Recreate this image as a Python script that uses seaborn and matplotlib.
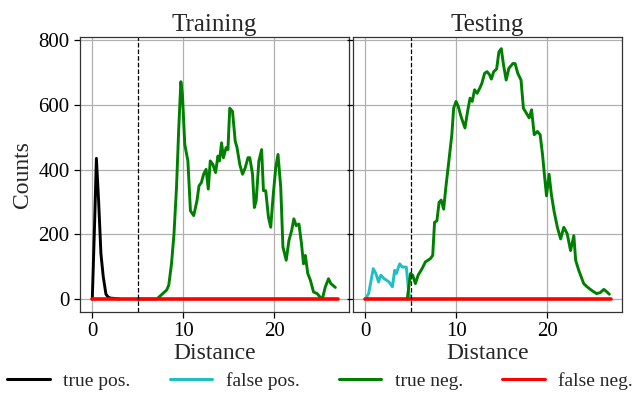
import numpy as np
import pandas as pd
import matplotlib
matplotlib.use("Agg")
import matplotlib.pyplot as plt
import seaborn as sns
from matplotlib.lines import Line2D

# ---------------- data ----------------
train_tp_x = [0, 0.25, 0.45, 0.7, 0.95, 1.2, 1.5, 1.75, 2.0, 2.5, 3.0]
train_tp_y = [0, 230, 435, 300, 140, 70, 15, 6, 3, 2, 0]

train_tn_x = [5.0, 7.08, 8.17, 8.4, 8.7, 8.97, 9.25, 9.5, 9.73, 9.9, 10.16, 10.5,
              10.78, 11.14, 11.5, 11.72, 11.98, 12.23, 12.5, 12.74, 12.96, 13.25,
              13.54, 13.8, 13.97, 14.2, 14.4, 14.7, 14.9, 15.1, 15.4, 15.7, 15.9,
              16.2, 16.5, 16.8, 17.1, 17.3, 17.6, 17.8, 18.0, 18.3, 18.6, 18.8,
              19.05, 19.35, 19.6, 19.85, 20.15, 20.4, 20.7, 20.94, 21.3, 21.6,
              21.9, 22.14, 22.4, 22.7, 22.98, 23.2, 23.4, 23.67, 23.96, 24.3,
              24.7, 25.05, 25.3, 25.6, 25.95, 26.2, 26.7]
train_tn_y = [0, 0, 28, 43, 109, 200, 345, 529, 672, 631, 478, 427,
              273, 258, 304, 350, 360, 386, 401, 340, 427, 416,
              391, 442, 427, 483, 437, 468, 462, 590, 580, 488, 468,
              416, 386, 406, 437, 437, 386, 283, 304, 427, 462, 335,
              335, 253, 222, 314, 406, 447, 345, 161, 120, 181,
              212, 248, 227, 232, 171, 109, 135, 79, 58, 22,
              17, 5, 4, 38, 63, 48, 36]

test_fp_x = [0, 0.36, 0.87, 1.16, 1.45, 1.7, 2.07, 2.6, 2.97, 3.22, 3.4, 3.77,
             4.06, 4.5, 4.78, 4.96]
test_fp_y = [0, 17, 94, 79, 53, 74, 63, 53, 38, 89, 79, 109, 99, 99, 17, 0]

test_tn_x = [4.6, 4.96, 5.2, 5.5, 5.8, 6.23, 6.6, 7.14, 7.4, 7.6, 7.86, 8.1, 8.33,
             8.6, 8.84, 9.13, 9.5, 9.7, 9.96, 10.2, 10.5, 10.94, 11.23, 11.5,
             11.74, 12.0, 12.28, 12.57, 12.8, 13.1, 13.37, 13.65, 13.84, 14.1,
             14.42, 14.67, 14.93, 15.18, 15.47, 15.76, 16.2, 16.45, 16.74, 17.1,
             17.36, 17.68, 18.0, 18.26, 18.55, 18.9, 19.2, 19.46, 19.7, 19.9,
             20.18, 20.43, 20.72, 21.09, 21.45, 21.8, 22.17, 22.54, 22.9, 23.1,
             23.44, 23.98, 24.35, 24.9, 25.4, 25.8, 26.2, 26.5, 26.8]
test_tn_y = [0, 79, 74, 48, 74, 94, 115, 125, 135, 237, 242, 299, 306,
             278, 345, 416, 508, 590, 611, 596, 565, 529, 580, 621,
             611, 647, 636, 652, 667, 698, 703, 693, 680, 703,
             711, 764, 774, 723, 677, 713, 728, 728, 698, 677,
             590, 575, 560, 585, 508, 518, 508, 447, 375, 319,
             386, 324, 273, 222, 186, 222, 202, 150, 196, 120,
             89, 48, 38, 26, 17, 20, 30, 23, 15]

fn_x = [0, 27]
fn_y = [0, 0]

categories = ["true pos.", "false pos.", "true neg.", "false neg."]
colors = {"true pos.": "black", "false pos.": "#1fbfc4",
          "true neg.": "green", "false neg.": "red"}
threshold = 5

def frame(parts):
    rows = []
    for name, xs, ys in parts:
        for xv, yv in zip(xs, ys):
            rows.append((name, xv, yv))
    return pd.DataFrame(rows, columns=["kind", "Distance", "Counts"])

train_df = frame([("true pos.", train_tp_x, train_tp_y),
                  ("true neg.", train_tn_x, train_tn_y),
                  ("false neg.", fn_x, fn_y)])
test_df = frame([("false pos.", test_fp_x, test_fp_y),
                 ("true neg.", test_tn_x, test_tn_y),
                 ("false neg.", fn_x, fn_y)])

# ---------------- style ----------------
sns.set_style("ticks")
plt.rcParams["font.family"] = ["Liberation Serif", "DejaVu Serif"]

fig, axes = plt.subplots(1, 2, figsize=(6.4, 3.98), dpi=100, sharey=True)
fig.subplots_adjust(left=0.125, right=0.972, top=0.907, bottom=0.216, wspace=0.015)

for ax, df, title in zip(axes, [train_df, test_df], ["Training", "Testing"]):
    for name in categories:
        sub = df[df["kind"] == name]
        if sub.empty:
            continue
        sns.lineplot(data=sub, x="Distance", y="Counts", color=colors[name],
                     lw=2.6 if name == "false neg." else 2.1,
                     estimator=None, sort=False, ax=ax, legend=False)
    ax.axvline(threshold, color="black", ls="--", lw=0.9)
    ax.set_xlim(-1.35, 28.2)
    ax.set_ylim(-40, 810)
    ax.set_xticks([0, 10, 20])
    ax.set_yticks([0, 200, 400, 600, 800])
    ax.grid(True, color="#b0b0b0", lw=0.9)
    ax.set_axisbelow(True)
    ax.set_title(title, fontsize=18, pad=4)
    ax.set_xlabel("Distance", fontsize=17, labelpad=1)
    ax.tick_params(labelsize=15, length=4, width=0.9, direction="out", colors="black")
    for s in ax.spines.values():
        s.set_color("#333333")
        s.set_linewidth(0.9)

axes[0].set_ylabel("Counts", fontsize=17, labelpad=4)
axes[1].set_ylabel("")
axes[1].tick_params(labelleft=False)

handles = [Line2D([0], [0], color=colors[c], lw=2.2) for c in categories]
fig.legend(handles, categories, loc="center", ncol=4, frameon=False,
           bbox_to_anchor=(0.5, 0.042), fontsize=14, handlelength=2.2,
           columnspacing=2.0, handletextpad=0.7, borderaxespad=0)

fig.savefig("out.png", dpi=100)
